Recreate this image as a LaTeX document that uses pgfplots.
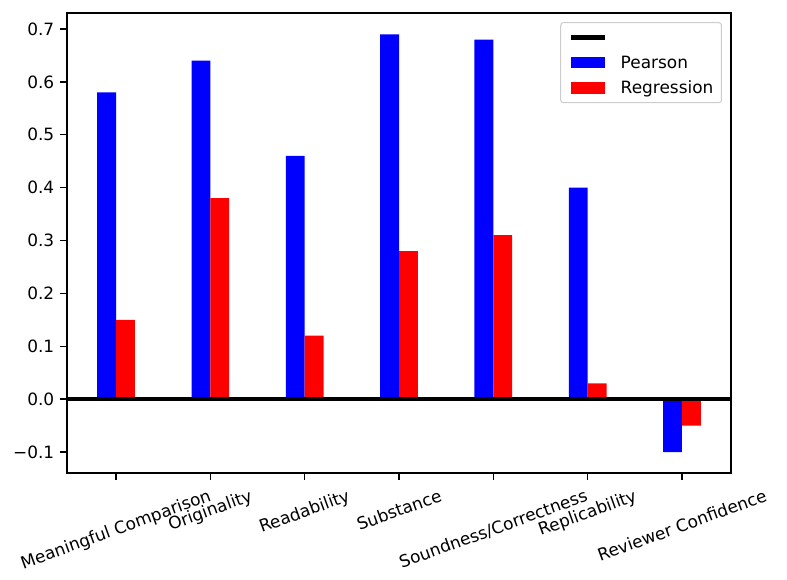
\documentclass[border=0pt,12pt]{standalone}
\usepackage{fontspec}
\setmainfont{DejaVu Sans}
\usepackage{graphicx}
\usepackage{pgfplots}
\pgfplotsset{compat=1.18}
\definecolor{legframe}{RGB}{204,204,204}
\begin{document}
\fontsize{12.2}{14.6}\selectfont
\begin{tikzpicture}
\begin{axis}[
  name=ax,
  scale only axis,
  width=478.08pt, height=331.2pt,
  xmin=-0.52, xmax=6.52,
  ymin=-0.1397, ymax=0.7302,
  axis line style={line width=0.96pt},
  tick align=outside,
  xtick pos=left, ytick pos=left,
  major tick length=5pt,
  tick style={black, line width=0.96pt},
  xtick={0,1,2,3,4,5,6},
  xticklabels={{\rotatebox{20}{Meaningful Comparison}},{\rotatebox{20}{Originality}},{\rotatebox{20}{Readability}},{\rotatebox{20}{Substance}},{\rotatebox{20}{Soundness/Correctness}},{\rotatebox{20}{Replicability}},{\rotatebox{20}{Reviewer Confidence}}},
  xticklabel style={anchor=north, inner sep=0pt, yshift=-6pt},
  ytick={-0.1,0,0.1,0.2,0.3,0.4,0.5,0.6,0.7},
  yticklabels={−0.1,0.0,0.1,0.2,0.3,0.4,0.5,0.6,0.7},
  yticklabel style={anchor=east, inner sep=0pt, xshift=-4pt},
  legend style={at={(rel axis cs:0.9864,0.9804)}, anchor=north east,
    draw=legframe, line width=0.72pt, rounded corners=2pt, fill=white,
    inner xsep=5.8pt, inner ysep=4.8pt, row sep=6pt, column sep=9.8pt,
    nodes={inner sep=0pt}},
  legend cell align=left,
]
\addlegendimage{black, line width=3.1pt, legend image code/.code={\draw[black, line width=3.1pt, sharp corners] (0pt,0pt) -- (24.5pt,0pt);}}
\addplot[ybar, bar width=0.2, bar shift=-0.1, fill=blue, draw=none,
  legend image code/.code={\fill[fill=blue, sharp corners] (0pt,-4.2pt) rectangle (24.5pt,4.2pt);}]
  coordinates {(0,0.58) (1,0.64) (2,0.46) (3,0.69) (4,0.68) (5,0.40) (6,-0.10)};
\addplot[ybar, bar width=0.2, bar shift=0.1, fill=red, draw=none,
  legend image code/.code={\fill[fill=red, sharp corners] (0pt,-4.2pt) rectangle (24.5pt,4.2pt);}]
  coordinates {(0,0.15) (1,0.38) (2,0.12) (3,0.28) (4,0.31) (5,0.03) (6,-0.05)};
\addplot[black, line width=3.1pt, forget plot] coordinates {(-0.6,0) (6.6,0)};
\legend{\strut,\strut Pearson,\strut Regression}
\end{axis}
\pgfresetboundingbox
\path (ax.south west) ++(-48.24pt,-76.32pt);
\path (ax.north east) ++(40.32pt,9.36pt);
\end{tikzpicture}
\end{document}
